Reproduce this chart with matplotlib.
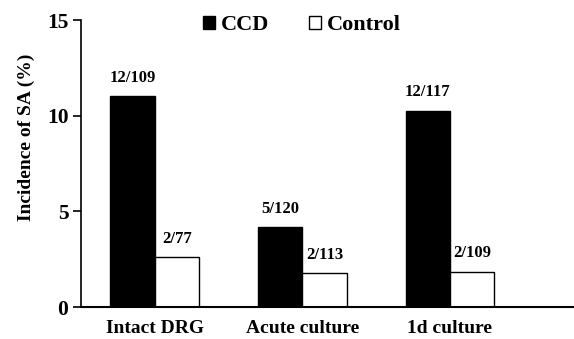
import numpy as np
import matplotlib
matplotlib.use("Agg")
import matplotlib.pyplot as plt

# data
categories = ["Intact DRG", "Acute culture", "1d culture"]
ccd_values = [12 / 109 * 100, 5 / 120 * 100, 12 / 117 * 100]
control_values = [2 / 77 * 100, 2 / 113 * 100, 2 / 109 * 100]
ccd_labels = ["12/109", "5/120", "12/117"]
control_labels = ["2/77", "2/113", "2/109"]
y_ticks = [0, 5, 10, 15]

plt.rcParams["font.family"] = ["Liberation Serif", "DejaVu Serif"]
plt.rcParams["font.weight"] = "bold"

fig = plt.figure(figsize=(5.74, 3.39), dpi=100)
ax = fig.add_axes([0.141, 0.094, 0.859, 0.847])

x = np.arange(len(categories))
w = 0.3
ax.bar(x - w / 2, ccd_values, w, color="black", edgecolor="black", linewidth=1, label="CCD")
ax.bar(x + w / 2, control_values, w, color="white", edgecolor="black", linewidth=1, label="Control")

for i in range(len(categories)):
    ax.text(x[i] - w / 2, ccd_values[i] + 0.55, ccd_labels[i], ha="center", va="bottom",
            fontsize=12, fontweight="bold")
    ax.text(x[i] + w / 2, control_values[i] + 0.55, control_labels[i], ha="center", va="bottom",
            fontsize=12, fontweight="bold")

ax.set_xlim(-0.5, 2.84)
ax.set_ylim(0, 15)
ax.set_yticks(y_ticks)
ax.set_xticks(x)
ax.set_xticklabels(categories, fontsize=14, fontweight="bold")
ax.tick_params(axis="y", direction="out", length=6, width=1.2, labelsize=15.5, pad=3)
ax.tick_params(axis="x", length=0, pad=9)
for lab in ax.get_yticklabels():
    lab.set_fontweight("bold")
ax.spines["top"].set_visible(False)
ax.spines["right"].set_visible(False)
ax.spines["left"].set_linewidth(1.2)
ax.spines["bottom"].set_linewidth(1.5)
ax.set_ylabel("Incidence of SA (%)", fontsize=14, fontweight="bold")
ax.yaxis.set_label_coords(-0.093, 0.59)

fig.legend(*ax.get_legend_handles_labels(), loc="center", bbox_to_anchor=(0.526, 0.925),
           ncol=2, frameon=False, prop={"size": 16, "weight": "bold"},
           handlelength=0.55, handleheight=0.55, handletextpad=0.25, columnspacing=1.8)

fig.savefig("out.png", dpi=100)
